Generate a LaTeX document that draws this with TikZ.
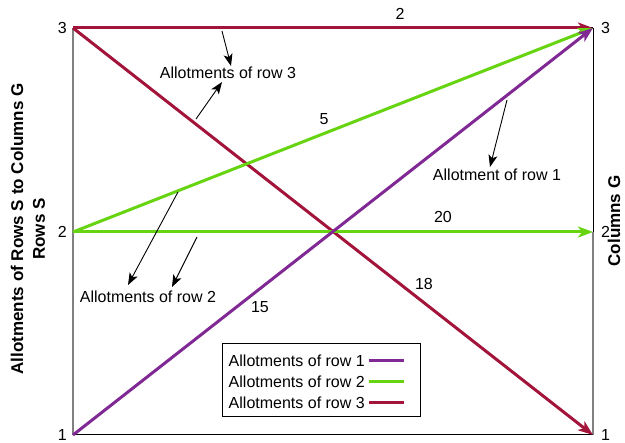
\documentclass[tikz,border=0pt]{standalone}
\usepackage{fontspec}
\setmainfont{Liberation Sans}
\usetikzlibrary{arrows.meta,positioning}
\definecolor{rowone}{RGB}{128,40,148}
\definecolor{rowtwo}{RGB}{102,212,16}
\definecolor{rowthree}{RGB}{162,20,58}
\begin{document}
\begin{tikzpicture}[x=1pt,y=-1pt,
    every node/.style={font=\fontsize{16}{19}\selectfont},
    allot/.style={line width=3pt,-{Stealth[length=15pt,width=11pt,inset=4pt]}},
    note/.style={line width=0.9pt,-{Stealth[length=12pt,width=9pt,inset=3pt]}},
    axislabel/.style={font=\fontsize{17}{20}\selectfont\bfseries,rotate=90}]
  \useasboundingbox (0,0) rectangle (625,443);
  % frame and ticks
  \foreach \k/\y in {1/435,2/232,3/28} {
    \coordinate (S\k) at (73,\y);
    \coordinate (G\k) at (593,\y);
    \node[left=5pt of S\k, inner sep=1pt] (sl\k) {\k};
    \node[right=7pt of G\k, inner sep=1pt] (gl\k) {\k};
  }
  \draw[black!50, line width=1.2pt] (S1) -- (S3);
  \draw[black!50, line width=1.2pt] (G1) -- (G2);
  \draw[line width=1pt] (G2) -- (G3);
  \draw[line width=1pt] (S3) -- (G3);
  \draw[line width=1pt] (S1) -- (G1);
  % allotments
  \draw[allot, rowthree] (S3) -- (G3);
  \draw[allot, rowthree] (S3) -- (G1);
  \draw[allot, rowtwo] (S2) -- (G2);
  \draw[allot, rowtwo] (S2) -- (G3);
  \draw[allot, rowone] (S1) -- (G3);
  \node (w33) at (400,14) {2};
  \node (w31) at (424,284) {18};
  \node (w23) at (324,119) {5};
  \node (w22) at (443,217) {20};
  \node (w13) at (260,307) {15};
  % notes
  \node (n3) at (228,73) {Allotments of row 3};
  \node (n1) at (497,175) {Allotment of row 1};
  \node (n2) at (148,297) {Allotments of row 2};
  \coordinate (p3a) at (222,31);  \coordinate (t3a) at (231,66);
  \coordinate (p3b) at (196,119); \coordinate (t3b) at (222,82);
  \coordinate (p1) at (507,100);  \coordinate (t1) at (490,167);
  \coordinate (p2a) at (178,192); \coordinate (t2a) at (128,285);
  \coordinate (p2b) at (197,237); \coordinate (t2b) at (172,287);
  \draw[note] (p3a) -- (t3a);
  \draw[note] (p3b) -- (t3b);
  \draw[note] (p1) -- (t1);
  \draw[note] (p2a) -- (t2a);
  \draw[note] (p2b) -- (t2b);
  % key
  \node[draw, line width=1pt, minimum width=198pt, minimum height=73pt] (key) at (321,380.5) {};
  \foreach \k/\c/\y in {1/rowone/361,2/rowtwo/382,3/rowthree/403} {
    \node[anchor=east, inner sep=1pt] (key\k) at (366,\y) {Allotments of row \k};
    \coordinate (ks\k) at (369,\y);
    \coordinate (ke\k) at (404,\y);
    \draw[line width=3pt, \c] (ks\k) -- (ke\k);
  }
  % axis labels
  \node[axislabel] (ylab) at (17,229) {Allotments of Rows S to Columns G};
  \node[axislabel] (ylab2) at (39,229) {Rows S};
  \node[axislabel, inner sep=1pt] (y2lab) at (614,221) {Columns G};
\end{tikzpicture}
\end{document}
